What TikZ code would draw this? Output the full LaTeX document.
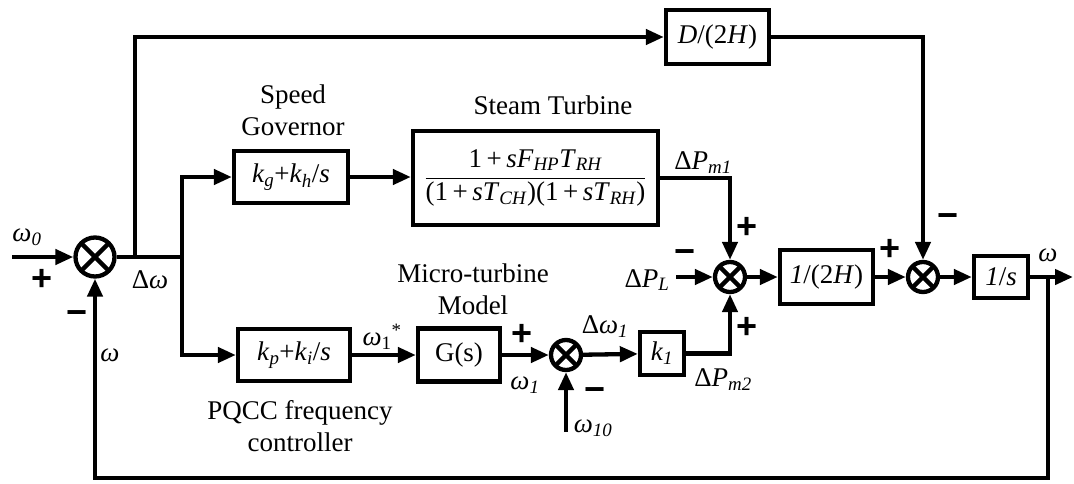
\documentclass[tikz,border=0pt]{standalone}
\usepackage{fontspec}
\setmainfont{Liberation Serif}
\newfontfamily\signfont{Liberation Sans}
\usetikzlibrary{arrows.meta}
\newcommand{\sbs}[1]{\textsubscript{#1}}
\begin{document}
\begin{tikzpicture}[x=1pt,y=-1pt,
  ln/.style={line width=4.3pt},
  arr/.style={line width=4.3pt,-{Triangle[length=18pt,width=15pt]}},
  blk/.style={draw,line width=4.3pt,inner sep=0pt,font=\fontsize{27}{32}\selectfont},
  sumj/.style={circle,draw,line width=4.3pt,inner sep=0pt,
    path picture={\draw[line width=4.3pt] (path picture bounding box.north west) -- (path picture bounding box.south east)
      (path picture bounding box.north east) -- (path picture bounding box.south west);}},
  lbl/.style={inner sep=0pt,font=\fontsize{27}{32}\selectfont},
  sgn/.style={inner sep=0pt,font=\fontsize{36}{36}\signfont\bfseries}]
\useasboundingbox[fill=white] (0,0) rectangle (1074,483);

% junctions
\node[sumj,minimum size=39] (s1) at (95,257) {};
\node[sumj,minimum size=30] (s3) at (566,355) {};
\node[sumj,minimum size=30] (s4) at (730,277) {};
\node[sumj,minimum size=30] (s5) at (923,277) {};

% blocks
\node[blk,minimum width=103,minimum height=54] (d2h) at (717.5,37) {\textit{D}/(2\textit{H})};
\node[blk,minimum width=114,minimum height=52] (sg) at (291,177) {\textit{k}\sbs{\textit{g}}+\textit{k}\sbs{\textit{h}}/\textit{s}};
\node[blk,minimum width=245,minimum height=94] (st) at (535.5,178)
  {$\displaystyle\frac{\hbox{1\,+\,\textit{sF}\sbs{\textit{HP}}\textit{T}\sbs{\textit{RH}}}}{\hbox{(1\,+\,\textit{sT}\sbs{\textit{CH}})(1\,+\,\textit{sT}\sbs{\textit{RH}})}}$};
\node[blk,minimum width=112,minimum height=52] (pq) at (294,355) {\textit{k}\sbs{\textit{p}}+\textit{k}\sbs{\textit{i}}/\textit{s}};
\node[blk,minimum width=82,minimum height=53] (gs) at (459,355) {G(s)};
\node[blk,minimum width=44,minimum height=43] (k1) at (662,353.5) {\textit{k}\sbs{\textit{1}}};
\node[blk,minimum width=93,minimum height=54] (h2) at (826.5,277) {\textit{1}/(2\textit{H})};
\node[blk,minimum width=54,minimum height=42] (is) at (1001,277) {\textit{1}/\textit{s}};

% coordinates
\coordinate (in) at (12,257);
\coordinate (b1) at (135,257);
\coordinate (b2) at (182,257);
\coordinate (w10) at (566,432);
\coordinate (pl) at (676,277);
\coordinate (b3) at (1048,277);
\coordinate (out) at (1073,277);
\coordinate (fb) at (95,478);

% connectors
\draw[arr] (in) -- (s1);
\draw[ln] (s1) -- (b2);
\draw[arr] (b1) |- (d2h);
\draw[arr] (b2) |- (sg);
\draw[arr] (b2) |- (pq);
\draw[arr] (sg.east) -- (sg.east -| st.west);
\draw[arr] (st.east) -| (s4);
\draw[arr] (pq) -- (gs);
\draw[arr] (gs) -- (s3);
\draw[arr] (s3) -- (k1);
\draw[arr] (w10) -- (s3);
\draw[arr] (k1.east) -| (s4);
\draw[arr] (pl) -- (s4);
\draw[arr] (s4) -- (h2);
\draw[arr] (h2) -- (s5);
\draw[arr] (d2h) -| (s5);
\draw[arr] (s5) -- (is);
\draw[arr] (is) -- (out);
\draw[arr] (b3) -- (b3 |- fb) -- (fb) -- (s1);

% labels
\node[lbl] (l1) at (27,237) {\textit{ω\sbs{0}}};
\node[sgn] (p1) at (42,280) {+};
\node[lbl] (l2) at (150,280) {Δ\textit{ω}};
\node[sgn] (m1) at (77,318) {−};
\node[lbl] (l3) at (110,355) {\textit{ω}};
\node[lbl,align=center] (l4) at (293,110) {Speed\\Governor};
\node[lbl] (l5) at (553,105) {Steam Turbine};
\node[lbl] (l6) at (703,163) {Δ\textit{P}\sbs{\textit{m1}}};
\node[sgn] (p2) at (747,228) {+};
\node[sgn] (m2) at (685,257) {−};
\node[lbl] (l7) at (647,280) {Δ\textit{P}\sbs{\textit{L}}};
\node[sgn] (p3) at (747,328) {+};
\node[lbl] (l8) at (723,380) {Δ\textit{P}\sbs{\textit{m2}}};
\node[sgn] (p4) at (890,250) {+};
\node[sgn] (m3) at (948,221) {−};
\node[lbl] (l9) at (1048,255) {\textit{ω}};
\node[lbl,align=center] (l10) at (473,289) {Micro-turbine\\Model};
\node[lbl] (l11) at (382,337) {\textit{ω}\sbs{1}\textsuperscript{*}};
\node[sgn] (p5) at (522,335) {+};
\node[lbl] (l12) at (525,385) {\textit{ω\sbs{1}}};
\node[lbl] (l13) at (605,327) {Δ\textit{ω\sbs{1}}};
\node[sgn] (m4) at (595,395) {−};
\node[lbl] (l14) at (593,428) {\textit{ω\sbs{10}}};
\node[lbl,align=center] (l15) at (300,426) {PQCC frequency\\controller};
\end{tikzpicture}
\end{document}
